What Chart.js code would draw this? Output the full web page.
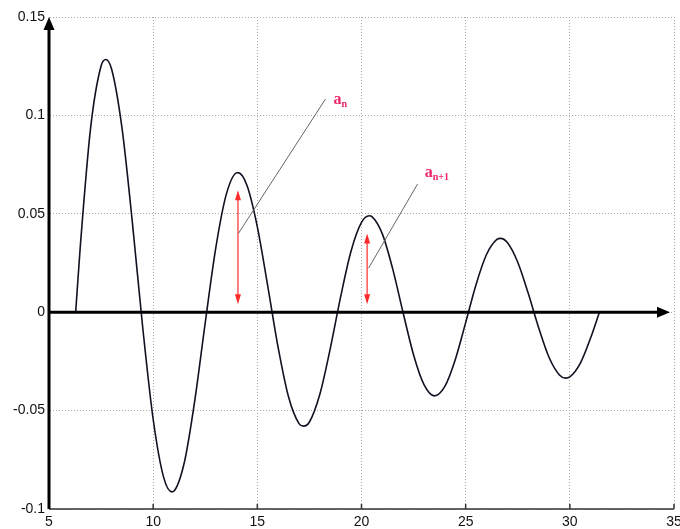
<!DOCTYPE html>
<html>
<head>
<meta charset="utf-8">
<script src="https://cdn.jsdelivr.net/npm/chart.js@4"></script>
<style>
  html, body { margin: 0; padding: 0; background: #fff; }
  #wrap { width: 680px; height: 529px; }
</style>
</head>
<body>
<div id="wrap"><canvas id="chart" width="680" height="529"></canvas></div>
<script>
// curve points
const xs = [6.28, 6.5, 7.0, 7.5, 7.725, 8.0, 8.5, 9.0, 9.5, 10.0, 10.5, 10.904, 11.0, 11.5, 12.0, 12.5,
  13.0, 13.5, 14.0, 14.066, 14.5, 15.0, 15.5, 16.0, 16.5, 17.0, 17.221, 17.5, 18.0, 18.5,
  19.0, 19.5, 20.0, 20.371, 20.5, 21.0, 21.5, 22.0, 22.5, 23.0, 23.5, 24.0, 24.5, 25.0,
  25.5, 26.0, 26.5, 26.67, 27.0, 27.5, 28.0, 28.5, 29.0, 29.5, 29.8, 30.0, 30.5, 31.0, 31.42];
const ys = [0, 0.0331, 0.0939, 0.1251, 0.1284, 0.1237, 0.0939, 0.0458, -0.0079, -0.0544, -0.0838, -0.0913, -0.0909, -0.0761, -0.0447, -0.0053,
  0.0323, 0.0595, 0.0708, 0.0709, 0.0645, 0.0434, 0.0133, -0.0180, -0.0431, -0.0566, -0.0579, -0.0558, -0.0417, -0.0185,
  0.0079, 0.0311, 0.0456, 0.0490, 0.0486, 0.0398, 0.0219, -0.0004, -0.0217, -0.0368, -0.0425, -0.0377, -0.0241, -0.0053,
  0.0141, 0.0293, 0.0370, 0.0375, 0.0354, 0.0254, 0.0097, -0.0078, -0.0229, -0.0319, -0.0335, -0.0329, -0.0260, -0.0130, 0];

const xTicks = [5, 10, 15, 20, 25, 30, 35];
const yTicks = [-0.1, -0.05, 0, 0.05, 0.1, 0.15];

// red double arrows (x, bottom, top)
const arrowX = [14.07, 20.27];
const arrowLow = [0.004, 0.004];
const arrowHigh = [0.062, 0.040];

// leader lines and labels
const leaderFrom = [[14.09, 0.040], [20.34, 0.0224]];
const leaderTo = [[18.27, 0.1083], [22.69, 0.0651]];
const labelPos = [[18.65, 0.108], [23.03, 0.0705]];
const labelSub = ['n', 'n+1'];

const points = xs.map((x, i) => ({ x: x, y: ys[i] }));

function arrowHead(ctx, x, y, dir, len, half) {
  // dir: 'up', 'down', 'right'
  ctx.beginPath();
  if (dir === 'up') { ctx.moveTo(x, y); ctx.lineTo(x - half, y + len); ctx.lineTo(x + half, y + len); }
  else if (dir === 'down') { ctx.moveTo(x, y); ctx.lineTo(x - half, y - len); ctx.lineTo(x + half, y - len); }
  else { ctx.moveTo(x, y); ctx.lineTo(x - len, y - half); ctx.lineTo(x - len, y + half); }
  ctx.closePath();
  ctx.fill();
}

const decor = {
  id: 'decor',
  afterDatasetsDraw(chart) {
    const ctx = chart.ctx;
    const sx = chart.scales.x, sy = chart.scales.y;
    const area = chart.chartArea;
    ctx.save();

    // bottom frame line + small inside ticks
    ctx.strokeStyle = '#333';
    ctx.lineWidth = 1.5;
    ctx.beginPath();
    ctx.moveTo(area.left, area.bottom);
    ctx.lineTo(area.right, area.bottom);
    xTicks.forEach(t => {
      const px = sx.getPixelForValue(t);
      ctx.moveTo(px, area.bottom);
      ctx.lineTo(px, area.bottom - 5);
    });
    ctx.stroke();

    // x axis at y = 0 with arrow
    ctx.strokeStyle = '#000';
    ctx.fillStyle = '#000';
    const y0 = sy.getPixelForValue(0);
    ctx.lineWidth = 3;
    ctx.beginPath();
    ctx.moveTo(area.left, y0);
    ctx.lineTo(area.right - 12, y0);
    ctx.stroke();
    arrowHead(ctx, area.right - 4, y0, 'right', 13, 5.5);

    // y axis arrow
    ctx.beginPath();
    ctx.moveTo(area.left, area.bottom);
    ctx.lineTo(area.left, area.top + 8);
    ctx.stroke();
    arrowHead(ctx, area.left, area.top, 'up', 13, 5.5);

    // red double arrows
    ctx.strokeStyle = '#ff2a2a';
    ctx.fillStyle = '#ff2a2a';
    ctx.lineWidth = 1.2;
    arrowX.forEach((ax, i) => {
      const px = sx.getPixelForValue(ax);
      const pl = sy.getPixelForValue(arrowLow[i]);
      const ph = sy.getPixelForValue(arrowHigh[i]);
      ctx.beginPath();
      ctx.moveTo(px, pl - 6);
      ctx.lineTo(px, ph + 6);
      ctx.stroke();
      arrowHead(ctx, px, ph, 'up', 10, 3);
      arrowHead(ctx, px, pl, 'down', 10, 3);
    });

    // leader lines
    ctx.strokeStyle = '#666';
    ctx.lineWidth = 1;
    leaderFrom.forEach((f, i) => {
      ctx.beginPath();
      ctx.moveTo(sx.getPixelForValue(f[0]), sy.getPixelForValue(f[1]));
      ctx.lineTo(sx.getPixelForValue(leaderTo[i][0]), sy.getPixelForValue(leaderTo[i][1]));
      ctx.stroke();
    });

    // labels a_n, a_{n+1}
    ctx.fillStyle = '#ee2266';
    ctx.textBaseline = 'alphabetic';
    labelPos.forEach((p, i) => {
      const px = sx.getPixelForValue(p[0]);
      const py = sy.getPixelForValue(p[1]);
      ctx.font = 'bold 16px "Liberation Serif", "DejaVu Serif", serif';
      ctx.fillText('a', px, py + 4);
      const w = ctx.measureText('a').width;
      ctx.font = 'bold 10px "Liberation Serif", "DejaVu Serif", serif';
      ctx.fillText(labelSub[i], px + w, py + 7);
    });

    ctx.restore();
  }
};

new Chart(document.getElementById('chart').getContext('2d'), {
  type: 'scatter',
  data: {
    datasets: [{
      data: points,
      showLine: true,
      borderColor: '#111122',
      borderWidth: 1.6,
      pointRadius: 0,
      cubicInterpolationMode: 'monotone',
      fill: false
    }]
  },
  options: {
    responsive: false,
    animation: false,
    layout: { padding: { top: 17, right: 6, left: 0, bottom: 0 } },
    plugins: { legend: { display: false }, tooltip: { enabled: false } },
    scales: {
      x: {
        type: 'linear',
        min: 5,
        max: 35,
        afterFit: s => { s.height = 20; s.paddingLeft = 0; s.paddingRight = 0; },
        afterBuildTicks: s => { s.ticks = xTicks.map(v => ({ value: v })); },
        ticks: {
          color: '#111',
          font: { family: 'Liberation Sans, Arial, sans-serif', size: 14 },
          padding: 5,
          maxRotation: 0,
          callback: v => String(v)
        },
        grid: { color: '#aaa', lineWidth: 1, drawTicks: false },
        border: { display: true, color: 'rgba(0,0,0,0)', width: 1, dash: [1, 2] }
      },
      y: {
        type: 'linear',
        min: -0.1,
        max: 0.15,
        afterFit: s => { s.width = 49; s.paddingTop = 0; s.paddingBottom = 0; },
        afterBuildTicks: s => { s.ticks = yTicks.map(v => ({ value: v })); },
        ticks: {
          color: '#111',
          font: { family: 'Liberation Sans, Arial, sans-serif', size: 14 },
          padding: 4,
          callback: v => String(Math.round(v * 100) / 100)
        },
        grid: { color: '#aaa', lineWidth: 1, drawTicks: false },
        border: { display: true, color: 'rgba(0,0,0,0)', width: 1, dash: [1, 2] }
      }
    }
  },
  plugins: [decor]
});
</script>
</body>
</html>
